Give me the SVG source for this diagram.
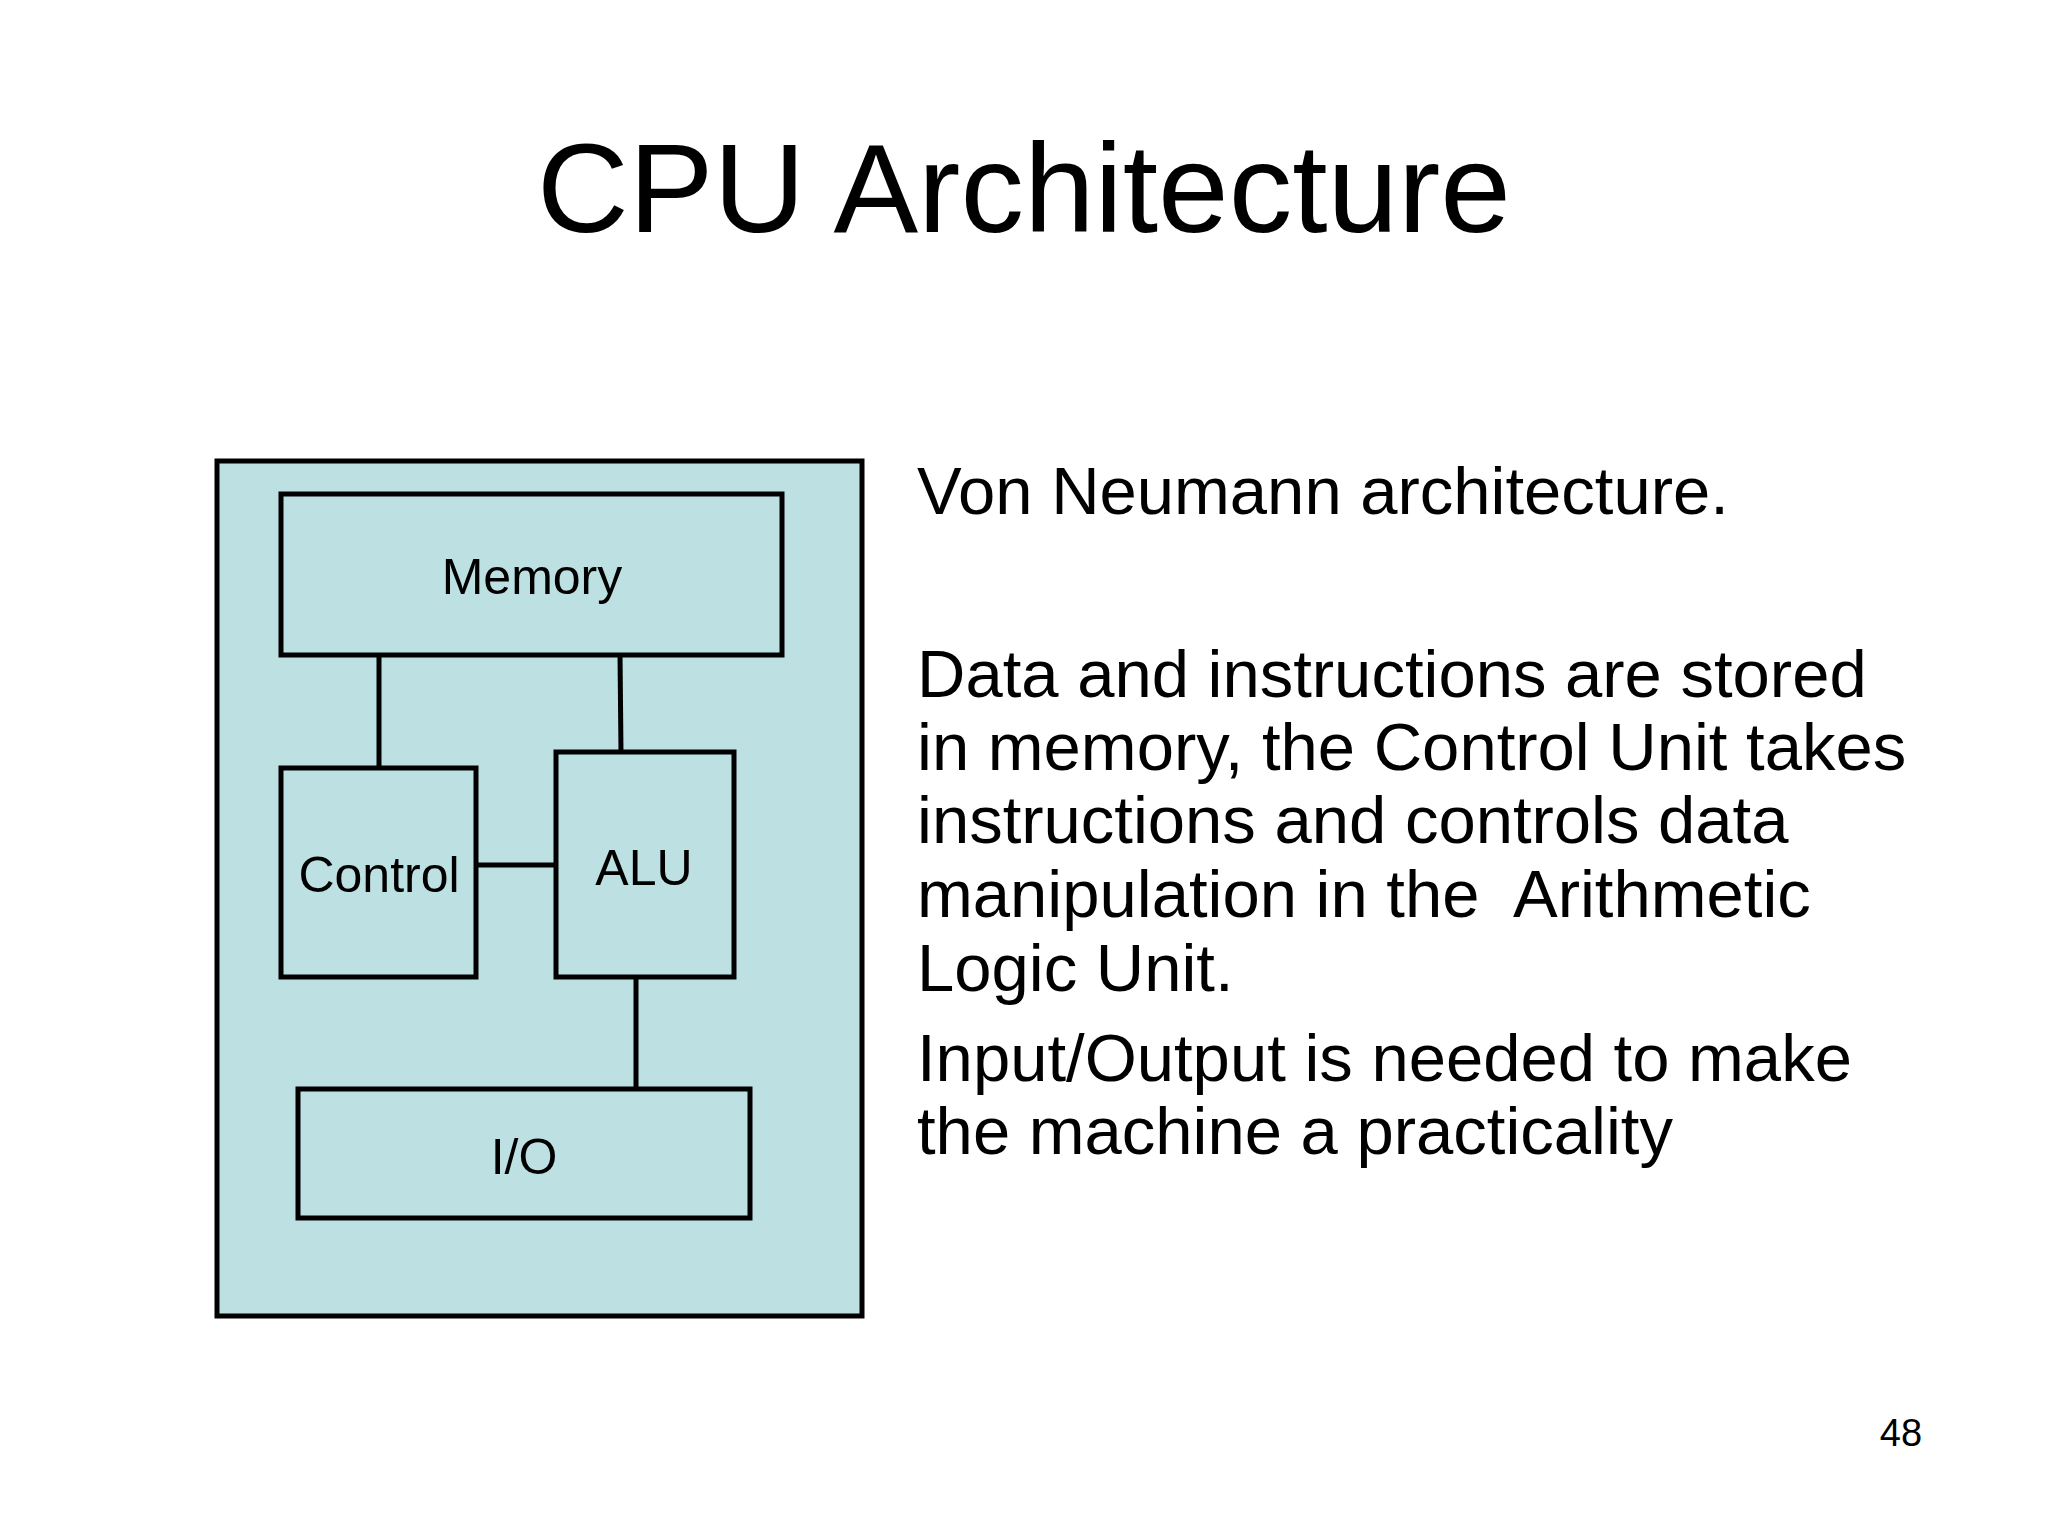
<svg xmlns="http://www.w3.org/2000/svg" width="2048" height="1536" viewBox="0 0 2048 1536">
<style>
text{font-family:"Liberation Sans",Arial,sans-serif;fill:#000}
.box{fill:#bde0e3;stroke:#000;stroke-width:5}
.lbl{font-size:50px;text-anchor:middle}
.body{font-size:67px}
line{stroke:#000;stroke-width:5}
</style>
<rect width="2048" height="1536" fill="#fff"/>
<text x="1024" y="232" font-size="127" text-anchor="middle">CPU Architecture</text>
<g id="cpu"><rect class="box" x="217" y="461" width="645" height="855"/></g>
<g id="connectors">
<line x1="379" y1="654" x2="379" y2="768"/>
<line x1="620" y1="654" x2="621" y2="752"/>
<line x1="476" y1="865" x2="556" y2="865"/>
<line x1="636" y1="977" x2="636" y2="1089"/>
</g>
<g id="memory"><rect class="box" x="281" y="494" width="501" height="161"/><text class="lbl" x="532" y="594">Memory</text></g>
<g id="control"><rect class="box" x="281" y="768" width="195" height="209"/><text class="lbl" x="379" y="892">Control</text></g>
<g id="alu"><rect class="box" x="556" y="752" width="178" height="225"/><text class="lbl" x="644" y="885">ALU</text></g>
<g id="io"><rect class="box" x="298" y="1089" width="452" height="129"/><text class="lbl" x="524" y="1174">I/O</text></g>
<g id="text">
<text class="body" x="917" y="514">Von Neumann architecture.</text>
<text class="body" x="917" y="697">Data and instructions are stored</text>
<text class="body" x="917" y="770">in memory, the Control Unit takes</text>
<text class="body" x="917" y="843">instructions and controls data</text>
<text class="body" x="917" y="917" xml:space="preserve">manipulation in the  Arithmetic</text>
<text class="body" x="917" y="991">Logic Unit.</text>
<text class="body" x="917" y="1081">Input/Output is needed to make</text>
<text class="body" x="917" y="1154">the machine a practicality</text>
<text x="1901" y="1446" font-size="38" text-anchor="middle">48</text>
</g>
</svg>
